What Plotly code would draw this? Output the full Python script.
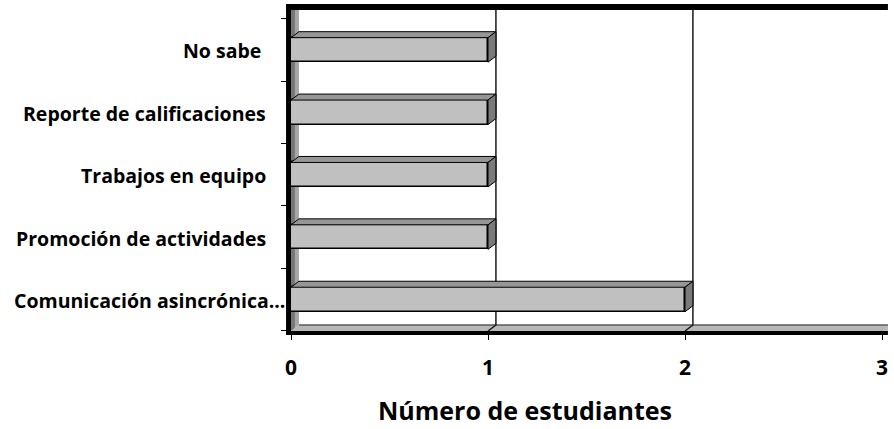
import plotly.graph_objects as go

# ---- data ----
categories = ["Comunicación asincrónica...", "Promoción de actividades",
              "Trabajos en equipo", "Reporte de calificaciones", "No sabe "]
values = [2, 1, 1, 1, 1]
x_ticks = [0, 1, 2, 3]
x_title = "Número de estudiantes"

# ---- layout geometry ----
W, H = 894, 429
L, R, T, B = 291, 6, 10, 98
plot_w = W - L - R
plot_h = H - T - B
x_range = [0, 3]
y_range = [-0.505, 4.64]
ux = plot_w / (x_range[1] - x_range[0])
uy = plot_h / (y_range[1] - y_range[0])
dx = 8 / ux          # 3D depth offset (x, data units)
dy = 6 / uy          # 3D depth offset (y, data units)
bar_w = 24.5 / uy

FONT = "Open Sans"
pos = list(range(len(categories)))

fig = go.Figure()
fig.add_trace(go.Bar(
    x=values, y=pos, orientation="h", width=bar_w,
    marker=dict(color="#c0c0c0", line=dict(color="#000000", width=1.5)),
    hoverinfo="x+text", text=categories, textposition="none",
))

shapes = []
y0 = y_range[0]
ytop = y_range[1]
span = x_range[1] - x_range[0]
pdx = dx / span                 # depth in paper-x units
pxr = 1 + R / plot_w            # right edge of the figure in paper-x units

# left wall (two-tone)
shapes.append(dict(type="path", layer="below",
                   path=f"M 0 {y0} L {dx/2} {y0+dy/2} L {dx/2} {ytop} L 0 {ytop} Z",
                   fillcolor="#767676", line=dict(width=0)))
shapes.append(dict(type="path", layer="below",
                   path=f"M {dx/2} {y0+dy/2} L {dx} {y0+dy} L {dx} {ytop} L {dx/2} {ytop} Z",
                   fillcolor="#a6a6a6", line=dict(width=0)))
# floor (x in paper units so it reaches the right edge)
shapes.append(dict(type="path", layer="below", xref="paper", yref="y",
                   path=f"M 0 {y0} L {pxr} {y0} L {pxr} {y0+dy} L {pdx} {y0+dy} Z",
                   fillcolor="#b8b8b8", line=dict(width=0)))
shapes.append(dict(type="line", layer="below", xref="paper", yref="y",
                   x0=pdx, x1=pxr, y0=y0+dy, y1=y0+dy,
                   line=dict(color="#5a5a5a", width=1.5)))
# gridlines on back wall
for v in x_ticks[1:]:
    shapes.append(dict(type="path", layer="below",
                       path=f"M {v+dx} {ytop} L {v+dx} {y0+dy} L {v} {y0}",
                       line=dict(color="#1a1a1a", width=1.5)))

# 3D faces of bars
for p, v in zip(pos, values):
    top = p + bar_w / 2
    bot = p - bar_w / 2
    shapes.append(dict(type="path", layer="above",
                       path=f"M 0 {top} L {v} {top} L {v+dx} {top+dy} L {dx} {top+dy} Z",
                       fillcolor="#969696", line=dict(color="#000000", width=1)))
    shapes.append(dict(type="path", layer="above",
                       path=f"M {v} {bot} L {v} {top} L {v+dx} {top+dy} L {v+dx} {bot+dy} Z",
                       fillcolor="#7a7a7a", line=dict(color="#000000", width=1)))

# black frame pieces (left, top, bottom)
shapes.append(dict(type="rect", xref="paper", yref="paper", layer="above",
                   x0=-5 / plot_w, x1=0, y0=-4 / plot_h, y1=1 + 6 / plot_h,
                   fillcolor="#000000", line=dict(width=0)))
shapes.append(dict(type="rect", xref="paper", yref="paper", layer="above",
                   x0=-5 / plot_w, x1=pxr, y0=1, y1=1 + 6 / plot_h,
                   fillcolor="#000000", line=dict(width=0)))
shapes.append(dict(type="rect", xref="paper", yref="paper", layer="above",
                   x0=-5 / plot_w, x1=pxr, y0=-4 / plot_h, y1=0,
                   fillcolor="#000000", line=dict(width=0)))

annotations = []
for p, c in zip(pos, categories):
    shift = -4 if c.endswith("...") else -23
    annotations.append(dict(x=0, xref="paper", y=p, yref="y", text=c,
                            xanchor="right", yanchor="middle", xshift=shift, yshift=-1,
                            showarrow=False,
                            font=dict(family=FONT, size=19.5, color="#000000", weight="bold")))
annotations.append(dict(x=(527 - L) / plot_w, xref="paper", y=(plot_h - (410 - T)) / plot_h,
                        yref="paper", text=x_title, showarrow=False,
                        xanchor="center", yanchor="middle",
                        font=dict(family=FONT, size=25, color="#000000", weight="bold")))

fig.update_layout(
    width=W, height=H,
    margin=dict(l=L, r=R, t=T, b=B),
    paper_bgcolor="#ffffff", plot_bgcolor="#ffffff",
    showlegend=False,
    shapes=shapes, annotations=annotations,
    xaxis=dict(range=x_range, tickvals=x_ticks, showgrid=False, zeroline=False,
               showline=False, ticks="outside", ticklen=8, tickcolor="#000000", tickwidth=1,
               ticklabelstandoff=10, ticklabeloverflow="allow",
               tickfont=dict(family=FONT, size=21, color="#000000", weight="bold")),
    yaxis=dict(range=y_range, tickvals=[i - 0.5 for i in range(len(categories) + 1)],
               showticklabels=False, showgrid=False, zeroline=False, showline=False,
               ticks="outside", ticklen=9, tickcolor="#000000", tickwidth=1),
    bargap=0,
)

fig.write_html("out.html")
